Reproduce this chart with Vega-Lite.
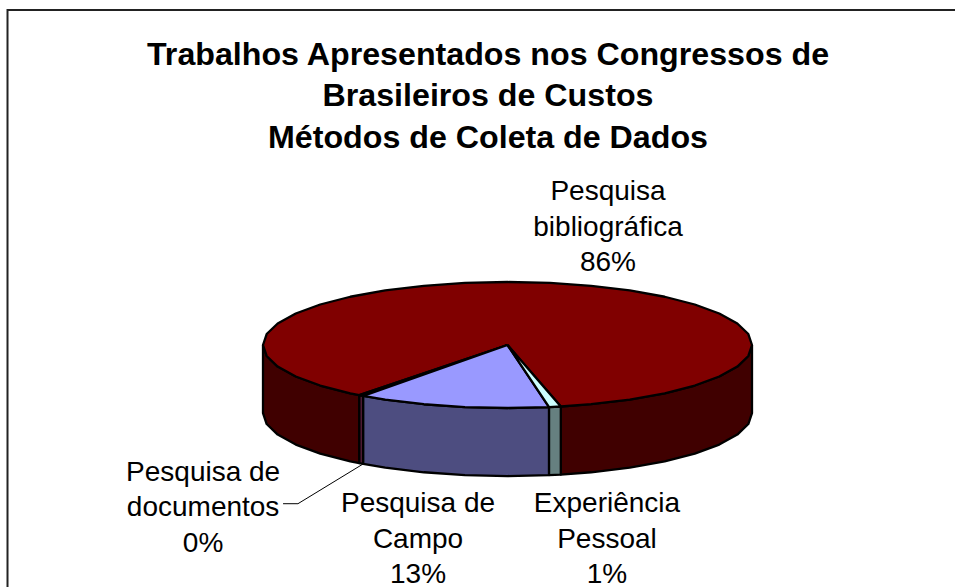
{
"$schema":"https://vega.github.io/schema/vega-lite/v6.json",
"width":955,"height":587,"padding":0,"autosize":{"type":"none"},"background":"white",
"title":{"text":["Trabalhos Apresentados nos Congressos de","Brasileiros de Custos","Métodos de Coleta de Dados"],"font":"Liberation Sans","fontWeight":"bold","fontSize":32.2,"lineHeight":41.5,"color":"#000000","anchor":"middle","baseline":"top","dx":10.5,"offset":-155},
"config":{"view":{"stroke":null}},
"datasets":{
"faces":[
{"part":"Lateral bibliográfica direita","i":1,"x":1,"y":0},{"part":"Lateral bibliográfica direita","i":2,"x":0.985,"y":0.174},{"part":"Lateral bibliográfica direita","i":3,"x":0.94,"y":0.342},{"part":"Lateral bibliográfica direita","i":4,"x":0.866,"y":0.5},{"part":"Lateral bibliográfica direita","i":5,"x":0.766,"y":0.643},{"part":"Lateral bibliográfica direita","i":6,"x":0.643,"y":0.766},{"part":"Lateral bibliográfica direita","i":7,"x":0.5,"y":0.866},{"part":"Lateral bibliográfica direita","i":8,"x":0.342,"y":0.94},{"part":"Lateral bibliográfica direita","i":9,"x":0.218,"y":0.976},{"part":"Lateral bibliográfica direita","i":10,"x":0.218,"y":2.056},{"part":"Lateral bibliográfica direita","i":11,"x":0.342,"y":2.02},{"part":"Lateral bibliográfica direita","i":12,"x":0.5,"y":1.946},{"part":"Lateral bibliográfica direita","i":13,"x":0.643,"y":1.846},{"part":"Lateral bibliográfica direita","i":14,"x":0.766,"y":1.723},{"part":"Lateral bibliográfica direita","i":15,"x":0.866,"y":1.58},{"part":"Lateral bibliográfica direita","i":16,"x":0.94,"y":1.422},{"part":"Lateral bibliográfica direita","i":17,"x":0.985,"y":1.254},{"part":"Lateral bibliográfica direita","i":18,"x":1,"y":1.08},{"part":"Lateral bibliográfica direita","i":19,"x":1,"y":0},
{"part":"Lateral bibliográfica esquerda","i":1,"x":-0.606,"y":0.795},{"part":"Lateral bibliográfica esquerda","i":2,"x":-0.643,"y":0.766},{"part":"Lateral bibliográfica esquerda","i":3,"x":-0.766,"y":0.643},{"part":"Lateral bibliográfica esquerda","i":4,"x":-0.866,"y":0.5},{"part":"Lateral bibliográfica esquerda","i":5,"x":-0.94,"y":0.342},{"part":"Lateral bibliográfica esquerda","i":6,"x":-0.985,"y":0.174},{"part":"Lateral bibliográfica esquerda","i":7,"x":-1,"y":0},{"part":"Lateral bibliográfica esquerda","i":8,"x":-1,"y":1.08},{"part":"Lateral bibliográfica esquerda","i":9,"x":-0.985,"y":1.254},{"part":"Lateral bibliográfica esquerda","i":10,"x":-0.94,"y":1.422},{"part":"Lateral bibliográfica esquerda","i":11,"x":-0.866,"y":1.58},{"part":"Lateral bibliográfica esquerda","i":12,"x":-0.766,"y":1.723},{"part":"Lateral bibliográfica esquerda","i":13,"x":-0.643,"y":1.846},{"part":"Lateral bibliográfica esquerda","i":14,"x":-0.606,"y":1.875},{"part":"Lateral bibliográfica esquerda","i":15,"x":-0.606,"y":0.795},
{"part":"Lateral documentos","i":1,"x":-0.59,"y":0.808},{"part":"Lateral documentos","i":2,"x":-0.606,"y":0.795},{"part":"Lateral documentos","i":3,"x":-0.606,"y":1.875},{"part":"Lateral documentos","i":4,"x":-0.59,"y":1.888},{"part":"Lateral documentos","i":5,"x":-0.59,"y":0.808},
{"part":"Lateral campo","i":1,"x":0.17,"y":0.985},{"part":"Lateral campo","i":2,"x":0,"y":1},{"part":"Lateral campo","i":3,"x":-0.174,"y":0.985},{"part":"Lateral campo","i":4,"x":-0.342,"y":0.94},{"part":"Lateral campo","i":5,"x":-0.5,"y":0.866},{"part":"Lateral campo","i":6,"x":-0.59,"y":0.808},{"part":"Lateral campo","i":7,"x":-0.59,"y":1.888},{"part":"Lateral campo","i":8,"x":-0.5,"y":1.946},{"part":"Lateral campo","i":9,"x":-0.342,"y":2.02},{"part":"Lateral campo","i":10,"x":-0.174,"y":2.065},{"part":"Lateral campo","i":11,"x":0,"y":2.08},{"part":"Lateral campo","i":12,"x":0.17,"y":2.065},{"part":"Lateral campo","i":13,"x":0.17,"y":0.985},
{"part":"Lateral experiência","i":1,"x":0.218,"y":0.976},{"part":"Lateral experiência","i":2,"x":0.17,"y":0.985},{"part":"Lateral experiência","i":3,"x":0.17,"y":2.065},{"part":"Lateral experiência","i":4,"x":0.218,"y":2.056},{"part":"Lateral experiência","i":5,"x":0.218,"y":0.976},
{"part":"Topo bibliográfica","i":1,"x":0,"y":0},{"part":"Topo bibliográfica","i":2,"x":0.218,"y":0.976},{"part":"Topo bibliográfica","i":3,"x":0.342,"y":0.94},{"part":"Topo bibliográfica","i":4,"x":0.5,"y":0.866},{"part":"Topo bibliográfica","i":5,"x":0.643,"y":0.766},{"part":"Topo bibliográfica","i":6,"x":0.766,"y":0.643},{"part":"Topo bibliográfica","i":7,"x":0.866,"y":0.5},{"part":"Topo bibliográfica","i":8,"x":0.94,"y":0.342},{"part":"Topo bibliográfica","i":9,"x":0.985,"y":0.174},{"part":"Topo bibliográfica","i":10,"x":1,"y":0},{"part":"Topo bibliográfica","i":11,"x":0.985,"y":-0.174},{"part":"Topo bibliográfica","i":12,"x":0.94,"y":-0.342},{"part":"Topo bibliográfica","i":13,"x":0.866,"y":-0.5},{"part":"Topo bibliográfica","i":14,"x":0.766,"y":-0.643},{"part":"Topo bibliográfica","i":15,"x":0.643,"y":-0.766},{"part":"Topo bibliográfica","i":16,"x":0.5,"y":-0.866},{"part":"Topo bibliográfica","i":17,"x":0.342,"y":-0.94},{"part":"Topo bibliográfica","i":18,"x":0.174,"y":-0.985},{"part":"Topo bibliográfica","i":19,"x":0,"y":-1},{"part":"Topo bibliográfica","i":20,"x":-0.174,"y":-0.985},{"part":"Topo bibliográfica","i":21,"x":-0.342,"y":-0.94},{"part":"Topo bibliográfica","i":22,"x":-0.5,"y":-0.866},{"part":"Topo bibliográfica","i":23,"x":-0.643,"y":-0.766},{"part":"Topo bibliográfica","i":24,"x":-0.766,"y":-0.643},{"part":"Topo bibliográfica","i":25,"x":-0.866,"y":-0.5},{"part":"Topo bibliográfica","i":26,"x":-0.94,"y":-0.342},{"part":"Topo bibliográfica","i":27,"x":-0.985,"y":-0.174},{"part":"Topo bibliográfica","i":28,"x":-1,"y":0},{"part":"Topo bibliográfica","i":29,"x":-0.985,"y":0.174},{"part":"Topo bibliográfica","i":30,"x":-0.94,"y":0.342},{"part":"Topo bibliográfica","i":31,"x":-0.866,"y":0.5},{"part":"Topo bibliográfica","i":32,"x":-0.766,"y":0.643},{"part":"Topo bibliográfica","i":33,"x":-0.643,"y":0.766},{"part":"Topo bibliográfica","i":34,"x":-0.606,"y":0.795},{"part":"Topo bibliográfica","i":35,"x":0,"y":0},
{"part":"Topo documentos","i":1,"x":0,"y":0},{"part":"Topo documentos","i":2,"x":-0.606,"y":0.795},{"part":"Topo documentos","i":3,"x":-0.59,"y":0.808},{"part":"Topo documentos","i":4,"x":0,"y":0},
{"part":"Topo campo","i":1,"x":0,"y":0},{"part":"Topo campo","i":2,"x":-0.59,"y":0.808},{"part":"Topo campo","i":3,"x":-0.5,"y":0.866},{"part":"Topo campo","i":4,"x":-0.342,"y":0.94},{"part":"Topo campo","i":5,"x":-0.174,"y":0.985},{"part":"Topo campo","i":6,"x":0,"y":1},{"part":"Topo campo","i":7,"x":0.17,"y":0.985},{"part":"Topo campo","i":8,"x":0,"y":0},
{"part":"Topo experiência","i":1,"x":0,"y":0},{"part":"Topo experiência","i":2,"x":0.17,"y":0.985},{"part":"Topo experiência","i":3,"x":0.218,"y":0.976},{"part":"Topo experiência","i":4,"x":0,"y":0}
],
"guides":[
{"name":"moldura","i":1,"x":-2.045,"y":3.841},{"name":"moldura","i":2,"x":-2.045,"y":-5.317},{"name":"moldura","i":3,"x":1.8303,"y":-5.317}
],
"leader":[
{"i":1,"x":-0.918,"y":2.519},{"i":2,"x":-0.857,"y":2.519},{"i":3,"x":-0.591,"y":1.889}
],
"labels":[
{"label":"Pesquisa\nbibliográfica\n86%","x":0.411,"y":-2.425},
{"label":"Pesquisa de\ndocumentos\n0%","x":-1.245,"y":2.024},
{"label":"Pesquisa de\nCampo\n13%","x":-0.366,"y":2.53},
{"label":"Experiência\nPessoal\n1%","x":0.407,"y":2.53}
]
},
"encoding":{
"x":{"field":"x","type":"quantitative","axis":null,"scale":{"domain":[-2.0757,1.8303],"nice":false,"zero":false}},
"y":{"field":"y","type":"quantitative","axis":null,"scale":{"domain":[-5.476,3.841],"nice":false,"zero":false,"reverse":true}}
},
"layer":[
{"data":{"name":"guides"},"mark":{"type":"line","stroke":"#222222","strokeWidth":2},"encoding":{"order":{"field":"i","type":"quantitative"}}},
{"data":{"name":"faces"},"mark":{"type":"line","stroke":"#000000","strokeWidth":2.3,"strokeJoin":"round"},
"encoding":{"order":{"field":"i","type":"quantitative"},"detail":{"field":"part","type":"nominal"},
"fill":{"field":"part","type":"nominal","legend":null,"sort":null,"scale":{
"domain":["Lateral bibliográfica direita","Lateral bibliográfica esquerda","Lateral documentos","Lateral campo","Lateral experiência","Topo bibliográfica","Topo documentos","Topo campo","Topo experiência"],
"range":["#400000","#400000","#4D1A33","#4D4D80","#668080","#800000","#993366","#9999FF","#CCFFFF"]}}}},
{"data":{"name":"leader"},"mark":{"type":"line","stroke":"#000000","strokeWidth":1},"encoding":{"order":{"field":"i","type":"quantitative"}}},
{"data":{"name":"labels"},"mark":{"type":"text","font":"Liberation Sans","fontSize":28,"lineHeight":35.5,"lineBreak":"\n","align":"center","baseline":"middle","color":"#000000"},"encoding":{"text":{"field":"label","type":"nominal"}}}
]
}
